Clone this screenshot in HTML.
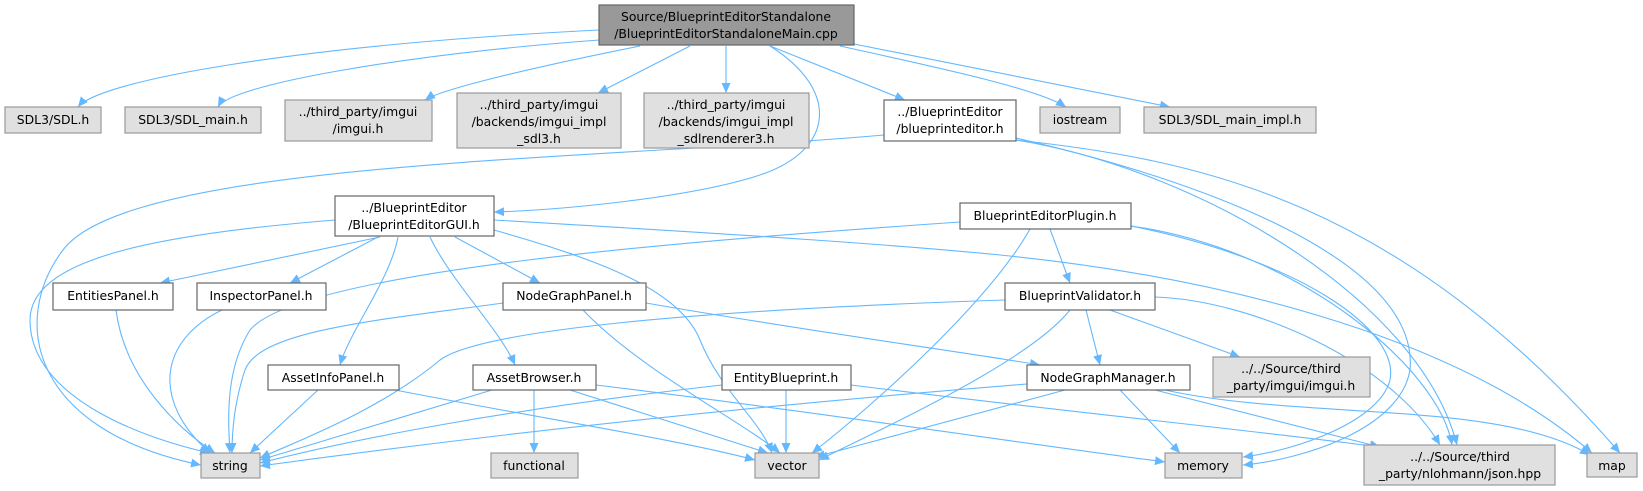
<!DOCTYPE html>
<html><head><meta charset="utf-8"><style>
html,body{margin:0;padding:0;background:#fff;}
svg{display:block;}
text{font-family:"DejaVu Sans","Liberation Sans",sans-serif;font-size:12.4px;fill:#000;text-anchor:middle;}
.e{fill:none;stroke:#63b8ff;stroke-width:1.1;marker-end:url(#a);}
.g{fill:#e0e0e0;stroke:#999;stroke-width:1.2;}
.w{fill:#fff;stroke:#666;stroke-width:1.2;}
</style></head><body>
<svg width="1643" height="491" viewBox="0 0 1643 491" xmlns="http://www.w3.org/2000/svg">
<defs><marker id="a" markerUnits="userSpaceOnUse" markerWidth="11" markerHeight="9" refX="10" refY="4.5" orient="auto"><path d="M0,0 L10,4.5 L0,9 z" fill="#63b8ff"/></marker></defs>
<g>
<path class="e" d="M599,30 C300,45 100,80 78,107"/>
<path class="e" d="M599,40 C400,55 230,85 218,107"/>
<path class="e" d="M640,46 C520,70 440,90 425,100"/>
<path class="e" d="M690,46 L598,93"/>
<path class="e" d="M726,46 L726,93"/>
<path class="e" d="M770,46 C840,90 835,150 760,175 C690,198 560,210 494,212"/>
<path class="e" d="M770,46 L905,100"/>
<path class="e" d="M840,46 C950,70 1040,90 1066,107"/>
<path class="e" d="M854,44 L1170,107"/>
<path class="e" d="M884,135 C600,160 130,160 63,250 C10,320 30,430 201,465"/>
<path class="e" d="M335,220 C150,235 30,260 30,320 C30,400 150,440 210,453"/>
<path class="e" d="M380,237 L160,283"/>
<path class="e" d="M378,237 L290,283"/>
<path class="e" d="M398,237 C390,280 350,330 340,365"/>
<path class="e" d="M430,237 C450,280 500,330 515,365"/>
<path class="e" d="M455,237 L540,283"/>
<path class="e" d="M494,230 C600,260 680,290 700,340 C720,390 760,420 772,453"/>
<path class="e" d="M494,220 C750,235 900,245 1000,255 C1200,275 1450,330 1592,453"/>
<path class="e" d="M960,222 C700,240 300,270 250,330 C225,370 228,420 230,453"/>
<path class="e" d="M1030,229 C990,300 880,400 812,453"/>
<path class="e" d="M1050,229 L1070,283"/>
<path class="e" d="M1131,226 C1300,260 1400,330 1390,380 C1380,420 1300,450 1243,457"/>
<path class="e" d="M1016,138 C1200,180 1420,260 1410,370 C1400,430 1300,460 1243,465"/>
<path class="e" d="M1131,226 C1300,250 1440,370 1452,445"/>
<path class="e" d="M1016,140 C1200,170 1420,300 1457,445"/>
<path class="e" d="M1016,140 C1200,160 1400,200 1620,453"/>
<path class="e" d="M1005,300 C700,310 480,330 440,360 C380,410 300,440 260,458"/>
<path class="e" d="M1070,310 C1030,360 900,420 819,460"/>
<path class="e" d="M1086,310 L1100,365"/>
<path class="e" d="M1110,310 L1240,357"/>
<path class="e" d="M1155,297 C1250,300 1390,360 1440,445"/>
<path class="e" d="M116,310 C125,380 180,430 215,453"/>
<path class="e" d="M222,310 C160,340 150,400 210,453"/>
<path class="e" d="M503,303 C380,320 260,330 245,370 C235,400 232,430 232,453"/>
<path class="e" d="M583,310 C640,370 740,420 780,453"/>
<path class="e" d="M646,303 C800,330 950,350 1040,365"/>
<path class="e" d="M318,390 L250,453"/>
<path class="e" d="M395,390 C550,420 680,440 755,460"/>
<path class="e" d="M492,390 L260,460"/>
<path class="e" d="M534,390 L534,453"/>
<path class="e" d="M570,390 L768,453"/>
<path class="e" d="M596,385 C800,410 1000,440 1165,462"/>
<path class="e" d="M722,385 C500,410 350,440 260,463"/>
<path class="e" d="M786,390 L786,453"/>
<path class="e" d="M851,385 C1050,410 1250,430 1380,447"/>
<path class="e" d="M1027,384 C700,410 450,440 260,466"/>
<path class="e" d="M1065,390 L815,457"/>
<path class="e" d="M1120,390 L1180,453"/>
<path class="e" d="M1155,390 L1380,447"/>
<path class="e" d="M1165,390 C1300,420 1500,400 1590,455"/>
</g>
<g>
<rect x="599" y="5" width="255" height="40" fill="#999" stroke="#666" stroke-width="1.2"/>
<text x="726" y="21">Source/BlueprintEditorStandalone</text><text x="726" y="38">/BlueprintEditorStandaloneMain.cpp</text>

<rect class="g" x="5" y="107" width="96" height="26"/><text x="53" y="124">SDL3/SDL.h</text>
<rect class="g" x="125" y="107" width="136" height="26"/><text x="193" y="124">SDL3/SDL_main.h</text>
<rect class="g" x="285" y="100" width="147" height="41"/><text x="358" y="116">../third_party/imgui</text><text x="358" y="133">/imgui.h</text>
<rect class="g" x="457" y="93" width="164" height="55"/><text x="539" y="109">../third_party/imgui</text><text x="539" y="126">/backends/imgui_impl</text><text x="539" y="143">_sdl3.h</text>
<rect class="g" x="644" y="93" width="165" height="55"/><text x="726" y="109">../third_party/imgui</text><text x="726" y="126">/backends/imgui_impl</text><text x="726" y="143">_sdlrenderer3.h</text>
<rect class="w" x="884" y="100" width="132" height="41"/><text x="950" y="116">../BlueprintEditor</text><text x="950" y="133">/blueprinteditor.h</text>
<rect class="g" x="1040" y="107" width="80" height="26"/><text x="1080" y="124">iostream</text>
<rect class="g" x="1144" y="107" width="172" height="26"/><text x="1230" y="124">SDL3/SDL_main_impl.h</text>

<rect class="w" x="335" y="196" width="159" height="40"/><text x="414" y="212">../BlueprintEditor</text><text x="414" y="229">/BlueprintEditorGUI.h</text>
<rect class="w" x="960" y="203" width="171" height="26"/><text x="1045" y="220">BlueprintEditorPlugin.h</text>

<rect class="w" x="53" y="283" width="120" height="27"/><text x="113" y="300">EntitiesPanel.h</text>
<rect class="w" x="197" y="283" width="129" height="27"/><text x="261" y="300">InspectorPanel.h</text>
<rect class="w" x="503" y="283" width="143" height="27"/><text x="574" y="300">NodeGraphPanel.h</text>
<rect class="w" x="1005" y="283" width="150" height="27"/><text x="1080" y="300">BlueprintValidator.h</text>

<rect class="w" x="268" y="365" width="131" height="25"/><text x="333" y="382">AssetInfoPanel.h</text>
<rect class="w" x="473" y="365" width="123" height="25"/><text x="534" y="382">AssetBrowser.h</text>
<rect class="w" x="722" y="365" width="129" height="25"/><text x="786" y="382">EntityBlueprint.h</text>
<rect class="w" x="1027" y="365" width="163" height="25"/><text x="1108" y="382">NodeGraphManager.h</text>
<rect class="g" x="1213" y="357" width="157" height="40"/><text x="1291" y="373">../../Source/third</text><text x="1291" y="390">_party/imgui/imgui.h</text>

<rect class="g" x="201" y="453" width="59" height="25"/><text x="230" y="470">string</text>
<rect class="g" x="491" y="453" width="87" height="25"/><text x="534" y="470">functional</text>
<rect class="g" x="755" y="453" width="64" height="25"/><text x="787" y="470">vector</text>
<rect class="g" x="1165" y="453" width="77" height="25"/><text x="1203" y="470">memory</text>
<rect class="g" x="1364" y="445" width="191" height="40"/><text x="1460" y="461">../../Source/third</text><text x="1460" y="478">_party/nlohmann/json.hpp</text>
<rect class="g" x="1587" y="453" width="50" height="24"/><text x="1612" y="470">map</text>
</g>
</svg>
</body></html>
